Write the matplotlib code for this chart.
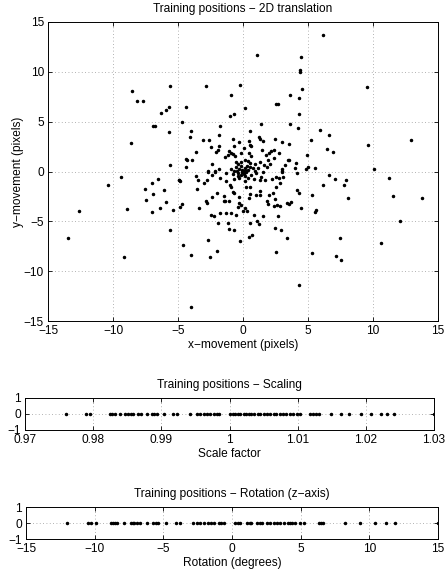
import numpy as np
import matplotlib
matplotlib.use('Agg')
from matplotlib import pyplot as plt

plt.rcParams['font.family'] = ['Liberation Sans', 'DejaVu Sans']
plt.rcParams['font.size'] = 8.6

# polozaji za treniranje - 2D translacija (ocitano sa slike)
x_move = [
    -8.52, -5.62, -8.13, -7.69, -6.27, -5.93, -5.67, -6.92, -6.79, -5.73, -8.6, -5.62,
    1.04, 4.45, 4.37, 4.42, -2.82, -0.22, -0.94, 3.6, 4.5, -4.37, 4.29, 2.54, 2.69, 0.12,
    -0.73, -0.97, 4.27, -4.7, 1.38, 3.6, -4.0, 4.24, -1.79, -4.1, -1.87, 0.55,
    -0.79, -3.1, -2.59, 1.3, 1.53, 1.2, 2.46, 2.98, 3.5, -0.3, 0.45, 0.53, 0.59, -1.87,
    -2.49, -0.73, 0.06, 1.44, -1.92, -2.05, -1.04, -0.92, -0.79, -3.62, 2.0, 2.18, 2.38,
    2.77, 0.43, 1.79, -0.17, -1.4, -1.15, -0.58, 0.63, 2.36, -4.42, -4.29, -3.93, -2.41,
    1.92, 3.5, 4.06, 4.94, 1.64, 2.08, 1.87, -4.42, -2.72, -2.15, 3.2, 4.03, 3.0, 3.0,
    5.0, -1.82, 3.46, 4.88,
    6.17, 9.57, 5.91, 6.63, 5.22, 6.45, 6.94, 9.65, 12.95, 5.55, 10.04,
    -9.38, -10.41, -6.53, -6.97, -4.95, -4.84, -7.56, -6.04, -6.89, -7.44, -5.91, -8.91,
    -6.42, -6.97, -5.39, -4.84, -12.59, -13.45, -5.6, -9.17,
    -3.62, -4.9, -2.72, -2.41, -2.13, -3.49, -2.97, -2.74, -1.77, -1.33, -1.28, -1.02,
    1.69, 2.2, 2.51, 2.77, 3.08, 3.0, 4.16,
    -3.54, -0.91, -0.79, -0.71, 0.22, 0.5, 2.51, 2.82, 2.33, 1.33, 1.02, 1.28, 1.97, 0.5,
    0.45, -0.27, -2.0, -2.38, -1.43, -1.48, -1.35, -1.1, -2.85, -2.74, -4.7, -3.41,
    -0.32, -0.12, -0.37, 0.14, 1.84, 1.92, 2.49, 2.38, 2.61, 2.82, 3.39, 3.54, 3.7, 4.16,
    4.29, 4.45, -2.44, -2.23, -1.79, -1.3, -0.91, -0.55, 0.01, 0.32, 0.84, 1.53, 2.72,
    -1.95, -1.15, -1.1, -0.66, 0.5, 1.1, 1.22, 2.49, 2.93, 0.48, 0.73, -0.22, -2.72,
    -4.63, 3.41, -1.97, -3.98, -2.54, 2.51, 4.27, -4.03,
    6.63, 6.17, 7.1, 7.95, 7.77, 5.32, 8.05, 5.58, 5.53, 11.22, 11.5, 13.77, 12.1, 7.43,
    5.27, 7.17, 7.56, 10.6,
    -0.53, -0.40, -0.19, 0.12, 0.37, 0.50, 0.89, 1.28, -0.91, -0.71, -0.53, -0.45, -0.27,
    -0.14, -0.01, 0.12, 0.24, 0.37, 0.06, -0.14, -0.40, 0.63, 0.89, 1.02, 1.53, -0.66,
    -0.27, 0.37, 0.12, 0.84, 1.28, -0.09, 0.17, 0.50, -0.35, 0.27, 0.76, -0.79, 1.15,
    1.40, 0.05, -0.1, 0.2, -0.05, 0.1,
]
y_move = [
    8.07, 8.53, 7.07, 7.07, 5.83, 6.17, 6.47, 4.53, 4.53, 3.97, 2.87, 0.7,
    11.7, 11.5, 10.17, 10.03, 8.6, 8.7, 7.63, 7.67, 8.23, 6.43, 7.33, 6.8, 6.8, 6.4,
    5.8, 5.57, 5.73, 5.0, 4.8, 4.73, 4.1, 4.33, 4.57, 3.5, 3.67, 4.1,
    3.23, 3.13, 3.13, 3.23, 3.03, 3.5, 3.3, 2.93, 2.8, 2.97, 3.1, 2.67, 2.53, 2.57,
    2.5, 2.6, 2.33, 2.13, 2.2, 2.0, 2.07, 1.9, 1.73, 1.97, 1.87, 2.07, 2.13,
    1.87, 1.83, 1.63, 1.87, 1.43, 1.67, 1.53, 1.6, 1.4, 1.27, 1.2, 1.17, 0.73,
    1.13, 1.17, 0.87, 1.7, 0.67, 0.77, 0.47, 0.43, 0.1, 0.1, 0.67, 0.4, 0.27, 0.1,
    0.43, 0.27, 1.2, 0.27,
    13.67, 8.47, 4.13, 3.7, 3.13, 2.27, 2.0, 2.63, 3.13, 0.37, 0.27,
    -0.56, -1.36, -0.73, -1.2, -0.83, -1.0, -1.8, -1.9, -2.26, -2.86, -3.06, -3.76,
    -3.63, -4.1, -3.9, -3.6, -3.96, -6.63, -5.86, -8.53,
    -0.46, -0.83, -0.03, -0.33, 0.0, -0.9, -1.13, -0.86, -0.66, -0.2, -0.93, -1.33,
    -0.83, -0.8, -0.56, -0.7, -0.53, -0.1, -0.2,
    -1.76, -1.6, -2.06, -2.2, -1.6, -1.6, -1.6, -1.13, -2.13, -2.0, -2.33, -2.33, -2.36, -2.26,
    -2.66, -2.6, -2.2, -2.56, -2.43, -2.93, -3.0, -2.96, -2.96, -3.16, -3.26, -3.63,
    -3.13, -3.4, -3.53, -3.7, -2.93, -3.23, -2.73, -3.47, -3.4, -3.47, -3.2, -3.23, -3.03, -1.83,
    -2.2, -3.66, -4.33, -4.46, -4.16, -4.2, -4.2, -4.33, -3.93, -4.0, -4.33, -4.43, -4.43,
    -5.2, -5.13, -5.73, -5.86, -5.13, -4.93, -5.3, -5.63, -5.83, -6.56, -6.33, -7.0, -6.83,
    -7.33, -6.7, -8.0, -8.4, -8.53, -8.03, -11.43, -13.56,
    -0.36, -1.36, -0.76, -0.86, -1.36, -2.36, -2.63, -3.86, -4.1, -0.63, -2.5, -2.7, -5.0, -6.66,
    -8.2, -8.5, -8.86, -7.16,
    1.0, 0.77, 0.94, 1.2, 1.1, 0.87, 0.77, 0.94, 0.27, 0.10, 0.44, 0.07, 0.27,
    0.54, 0.10, 0.34, -0.06, 0.17, -0.23, -0.33, -0.20, -0.33, 0.10, -0.20, -0.06, -0.73,
    -0.66, -0.66, -1.0, -0.73, -0.9, 0.0, -0.46, 0.44, -0.46, 0.6, 0.34, -0.23, 0.34,
    -0.56, 0.05, 0.15, 0.1, -0.1, -0.15,
]

# faktor skaliranja
scale = [
    0.97604, 0.97899, 0.97958, 0.98243, 0.98282, 0.98316, 0.98400, 0.98463, 0.98513,
    0.98552, 0.98586, 0.98660, 0.98709, 0.98783, 0.98856, 0.98891, 0.98930, 0.99038,
    0.99175, 0.99224, 0.99421, 0.99519, 0.99568, 0.99627, 0.99676, 0.99715, 0.99774,
    0.99813, 0.99853, 1.00010, 1.00049, 1.00083, 1.00118, 1.00147, 1.00206, 1.00245,
    1.00280, 1.00314, 1.00353, 1.00412, 1.00452, 1.00501, 1.00550, 1.00589, 1.00648,
    1.00687, 1.00736, 1.00785, 1.00825, 1.00893, 1.00933, 1.00992, 1.01041, 1.01178,
    1.01227, 1.01262, 1.01311, 1.01483, 1.01630, 1.01753, 1.01924, 1.02072, 1.02219,
    1.02317, 1.02415, 1.03000,
]

# rotacija oko z osi (stupnjevi)
rotation = [
    -11.99, -10.49, -10.30, -9.93, -8.84, -8.70, -8.55, -8.41, -7.88, -7.39, -7.24,
    -7.10, -6.91, -6.71, -6.18, -5.74, -5.57, -5.40, -4.77, -4.05, -3.80, -2.83, -2.54,
    -2.30, -2.01, -1.77, -1.53, -1.33, -0.97, -0.80, -0.56, 0.24, 0.41, 0.56, 1.09,
    1.28, 1.38, 1.82, 2.01, 2.18, 2.54, 2.74, 3.03, 3.27, 3.51, 3.80, 4.05, 4.19, 4.36,
    4.60, 4.92, 5.26, 6.30, 6.47, 6.66, 8.24, 9.33, 10.42, 11.19, 11.87, 15.0,
]


def matlab_style(ax):
    ax.tick_params(direction='in', top=True, right=True, length=3, width=0.6, pad=3)
    for s in ax.spines.values():
        s.set_linewidth(0.7)
    ax.grid(True, linestyle=(0, (1, 3)), color='#999999', linewidth=0.6)
    ax.set_axisbelow(True)


fig = plt.figure(figsize=(4.46, 5.79), dpi=100)
W, H = 446.0, 579.0

# glavni graf
ax1 = fig.add_axes([48/W, 1 - 321/H, 390/W, 299/H])
ax1.plot(x_move, y_move, '.', color='black', markersize=3)
ax1.set_xlim(-15, 15)
ax1.set_ylim(-15, 15)
ax1.set_xticks(np.arange(-15, 16, 5))
ax1.set_yticks(np.arange(-15, 16, 5))
ax1.set_title('Training positions \u2212 2D translation', fontsize=8.6, pad=7)
ax1.set_xlabel('x\u2212movement (pixels)', labelpad=1)
ax1.set_ylabel('y\u2212movement (pixels)', labelpad=0)
matlab_style(ax1)

# skaliranje
ax2 = fig.add_axes([25/W, 1 - 430/H, 409/W, 32/H])
ax2.plot(scale, np.zeros(len(scale)), '.', color='black', markersize=3)
ax2.set_xlim(0.97, 1.03)
ax2.set_ylim(-1, 1)
ax2.set_xticks([0.97, 0.98, 0.99, 1.0, 1.01, 1.02, 1.03])
ax2.set_xticklabels(['0.97', '0.98', '0.99', '1', '1.01', '1.02', '1.03'])
ax2.set_yticks([-1, 0, 1])
ax2.set_title('Training positions \u2212 Scaling', fontsize=8.6, pad=7)
ax2.set_xlabel('Scale factor', labelpad=1)
matlab_style(ax2)

# rotacija
ax3 = fig.add_axes([26/W, 1 - 539/H, 412/W, 32/H])
ax3.plot(rotation, np.zeros(len(rotation)), '.', color='black', markersize=3)
ax3.set_xlim(-15, 15)
ax3.set_ylim(-1, 1)
ax3.set_xticks(np.arange(-15, 16, 5))
ax3.set_yticks([-1, 0, 1])
ax3.set_title('Training positions \u2212 Rotation (z\u2212axis)', fontsize=8.6, pad=7)
ax3.set_xlabel('Rotation (degrees)', labelpad=1)
matlab_style(ax3)

fig.savefig('out.png', dpi=100)
